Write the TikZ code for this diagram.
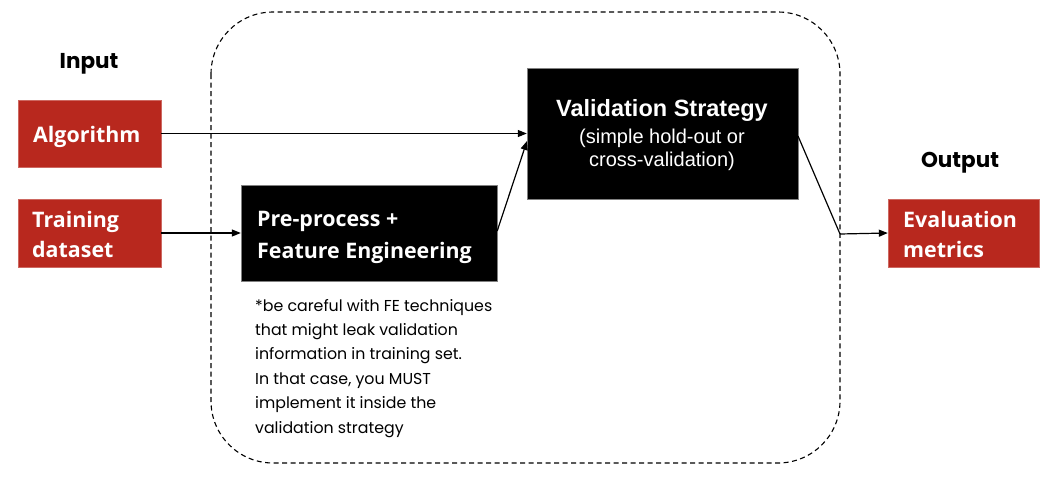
\documentclass[tikz,border=0pt]{standalone}
\usepackage{fontspec}
\setmainfont{Liberation Sans}
\newfontfamily\opensans{Open Sans}
\newfontfamily\poppins{Poppins}
\usetikzlibrary{arrows.meta}
\definecolor{boxred}{HTML}{B8281E}
\tikzset{
  redbox/.style={fill=boxred, draw=boxred!70!white, inner sep=0pt},
  blackbox/.style={fill=black, draw=gray, inner sep=0pt},
  boxtext/.style={anchor=base west, inner sep=0pt, text=white, font=\opensans\bfseries\fontsize{21.4}{26}\selectfont},
  valtext/.style={anchor=base, inner sep=0pt, text=white},
  notetext/.style={anchor=base west, inner sep=0pt, font=\poppins\fontsize{15.8}{19}\selectfont},
  heading/.style={anchor=base, inner sep=0pt, font=\poppins\bfseries\fontsize{21.5}{24}\selectfont},
  conn/.style={line width=1.2pt, -{Triangle[length=9pt,width=7pt]}},
  plain/.style={line width=1.2pt},
}
\begin{document}
\begin{tikzpicture}[x=1pt,y=-1pt]
\useasboundingbox (0,0) rectangle (1056,479);
% dashed region
\draw[line width=1.1pt, dash pattern=on 5pt off 3.5pt, rounded corners=62pt] (211,12) rectangle (840,463);
% headings
\node[heading] (inp) at (89,68) {Input};
\node[heading] (outp) at (960,167) {Output};
% boxes
\node[redbox, minimum width=143pt, minimum height=67pt] (alg) at (89.5,133.5) {};
\node[redbox, minimum width=143pt, minimum height=68pt] (train) at (89.5,233) {};
\node[redbox, minimum width=151pt, minimum height=68pt] (eval) at (963.5,233) {};
\node[blackbox, minimum width=256pt, minimum height=96pt] (pre) at (369,233) {};
\node[blackbox, minimum width=271pt, minimum height=131pt] (val) at (662.5,133.5) {};
% box texts
\node[boxtext] (algT) at (33,142) {Algorithm};
\node[boxtext] (trainT1) at (32,227) {Training};
\node[boxtext] (trainT2) at (32,257) {dataset};
\node[boxtext] (evalT1) at (903,227) {Evaluation};
\node[boxtext] (evalT2) at (903,257) {metrics};
\node[boxtext] (preT1) at (257,226) {Pre-process +};
\node[boxtext] (preT2) at (257,258) {Feature Engineering};
\node[valtext, font=\bfseries\fontsize{23.5}{26}\selectfont] (valT1) at (662,116) {Validation Strategy};
\node[valtext, font=\fontsize{20}{23}\selectfont] (valT2) at (662,143) {(simple hold-out or};
\node[valtext, font=\fontsize{20}{23}\selectfont] (valT3) at (662,166) {cross-validation)};
% note
\node[notetext] (n1) at (255,311.0) {*be careful with FE techniques};
\node[notetext] (n2) at (255,335.4) {that might leak validation};
\node[notetext] (n3) at (255,359.8) {information in training set.};
\node[notetext] (n4) at (255,384.2) {In that case, you MUST};
\node[notetext] (n5) at (255,408.6) {implement it inside the};
\node[notetext] (n6) at (255,433.0) {validation strategy};
% connectors
\coordinate (mid) at (840,234);
\draw[conn] (alg.east) -- (alg.east -| val.west);
\draw[conn] (train.east) -- (pre.west);
\draw[conn] (pre.east) ++(0,-2) -- (527,141);
\draw[plain] (798,136) -- (mid);
\draw[conn] (mid) -- (eval.west);
\end{tikzpicture}
\end{document}
